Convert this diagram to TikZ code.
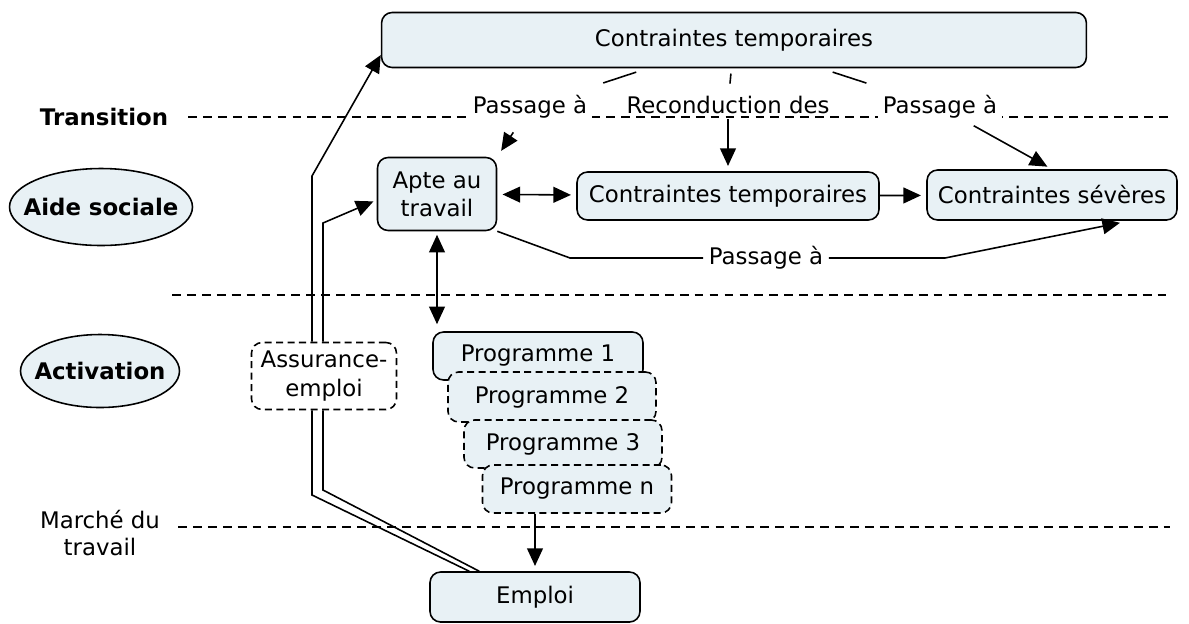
\documentclass[tikz,border=0pt]{standalone}
\usepackage{fontspec}
\setmainfont{DejaVu Sans}
\usetikzlibrary{arrows.meta,shapes.geometric}
\definecolor{boxblue}{RGB}{232,241,245}

\begin{document}
\begin{tikzpicture}[x=0.02cm,y=-0.02cm,
    font=\fontsize{13}{16}\selectfont,
    box/.style={draw, rounded corners=6pt, fill=boxblue, line width=0.9pt, align=center, inner sep=2pt},
    dbox/.style={box, dashed, dash pattern=on 4pt off 2.5pt},
    zone/.style={ellipse, draw, fill=boxblue, line width=0.9pt, inner xsep=-12pt, inner ysep=0pt, font=\fontsize{13}{16}\selectfont\bfseries},
    link/.style={fill=white, inner xsep=3pt, inner ysep=1pt},
    sep/.style={dashed, dash pattern=on 5pt off 3.5pt, line width=0.8pt},
    line/.style={line width=0.9pt},
    arr/.style={-{Triangle[length=10pt,width=9pt]}, line width=0.9pt},
    darr/.style={{Triangle[length=10pt,width=9pt]}-{Triangle[length=10pt,width=9pt]}, line width=0.9pt}
    ]

    \useasboundingbox (0,0) rectangle (1189,623);

    \node[font=\fontsize{13}{16}\selectfont\bfseries] (trans) at (104,117) {Transition};
    \node[zone, minimum width=3.66cm, minimum height=1.54cm] (aide) at (101,207) {Aide sociale};
    \node[zone, minimum width=3.18cm, minimum height=1.46cm] (activ) at (100,371) {Activation};
    \node[align=center, font=\fontsize{13}{15.5}\selectfont] (marche) at (100,533) {Marché du\\travail};

    \draw[sep] (188,117) -- (1170,117);
    \draw[sep] (172,295) -- (1170,295);
    \draw[sep] (178,527) -- (1170,527);

    \node[box, minimum width=14.1cm, minimum height=1.1cm] (top) at (734,40) {Contraintes temporaires};
    \node[box, minimum width=2.38cm, minimum height=1.46cm] (apte) at (437,194) {Apte au\\travail};
    \node[box, minimum width=6.04cm, minimum height=0.96cm] (ctemp) at (728,196) {Contraintes temporaires};
    \node[box, minimum width=5cm, minimum height=1cm] (csev) at (1052,195) {Contraintes sévères};

    \node[box, minimum width=4.2cm, minimum height=0.96cm] (prog1) at (538,356) {Programme 1};
    \node[dbox, minimum width=4.16cm, minimum height=1cm] (prog2) at (552,397) {Programme 2};
    \node[dbox, minimum width=3.96cm, minimum height=0.96cm] (prog3) at (563,444) {Programme 3};
    \node[dbox, minimum width=3.78cm, minimum height=0.96cm] (progn) at (577,489) {Programme n};

    \node[dbox, fill=white, minimum width=2.9cm, minimum height=1.34cm] (ae) at (324,376) {Assurance-\\emploi};
    \node[box, minimum width=4.2cm, minimum height=1cm] (emploi) at (535,597) {Emploi};

    \node[link] (lab1) at (530,107) {Passage à};
    \node[link] (lab2) at (728,105) {Reconduction des};
    \node[link] (lab3) at (940,107) {Passage à};
    \node[link] (lab4) at (766,258) {Passage à};

    \draw[line, shorten <=7pt, shorten >=19pt] (top) -- (lab1);
    \draw[line, shorten <=3pt, shorten >=6pt] (top) -- (lab2);
    \draw[line, shorten <=7pt, shorten >=19pt] (top) -- (lab3);
    \draw[arr, shorten <=8pt, shorten >=4pt] (lab1) -- (apte.north east);
    \draw[arr, shorten <=2pt, shorten >=3pt] (lab2) -- (ctemp);
    \draw[arr, shorten <=6pt, shorten >=3pt] (lab3) -- (csev.north);

    \draw[darr, shorten <=3pt, shorten >=3pt] (apte) -- (ctemp);
    \draw[arr, shorten >=3pt] (ctemp) -- (csev);

    \coordinate (b1) at (570,258);
    \coordinate (b2) at (945,258);
    \draw[line] (apte.south east) -- (b1) -- (lab4);
    \draw[arr] (lab4) -- (b2) -- ([xshift=1.36cm, yshift=-0.04cm]csev.south);

    \draw[darr, shorten <=2pt, shorten >=4pt] (apte) -- (apte |- prog1.north);
    \draw[arr, shorten >=3pt] (emploi.north |- progn.south) -- (emploi.north);

    \coordinate (ka1) at (312,495);
    \coordinate (kb1) at (323,490);
    \coordinate (ka2) at (312,176);
    \coordinate (kb2) at (323,223);
    \draw[line] ([xshift=0.8cm]emploi.north west) -- (ka1) -- (ka1 |- ae.south);
    \draw[line] ([xshift=1cm]emploi.north west) -- (kb1) -- (kb1 |- ae.south);
    \draw[arr] (ka1 |- ae.north) -- (ka2) -- ([yshift=-0.3cm]top.west);
    \draw[arr, shorten >=2pt] (kb1 |- ae.north) -- (kb2) -- ([yshift=-0.12cm]apte.west);

\end{tikzpicture}
\end{document}
